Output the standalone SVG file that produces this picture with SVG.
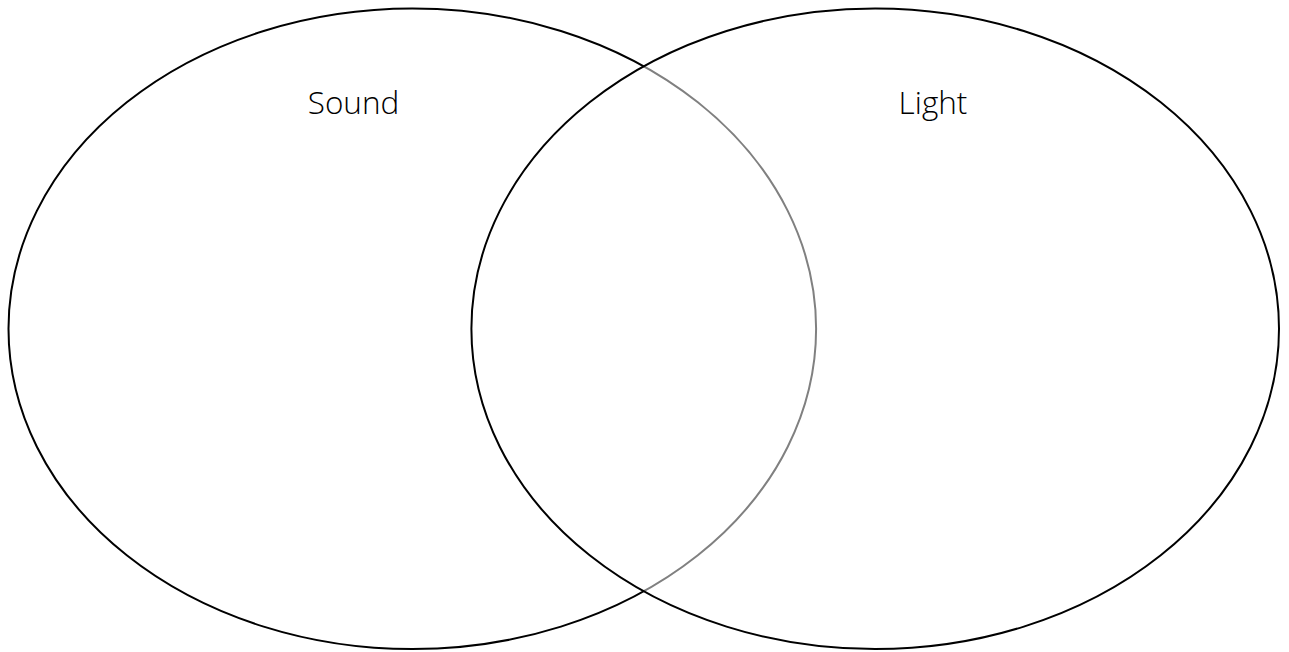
<svg xmlns="http://www.w3.org/2000/svg" width="1289" height="652" viewBox="0 0 1289 652">
<style>
.c{stroke:#000;stroke-width:2}
.t{font-family:"Open Sans","Noto Sans",sans-serif;font-weight:300;font-size:31.5px;fill:#000;text-anchor:middle}
</style>
<rect width="1289" height="652" fill="#fff"/>
<g id="sound">
<ellipse class="c" cx="412.3" cy="328.8" rx="403.8" ry="320.3" fill="#fff"/>
<text class="t" x="353.5" y="114">Sound</text>
</g>
<g id="light">
<ellipse class="c" cx="875.2" cy="328.8" rx="403.8" ry="320.3" fill="#fff" fill-opacity="0.5"/>
<text class="t" x="933" y="114">Light</text>
</g>
<g id="connectors"/>
</svg>
